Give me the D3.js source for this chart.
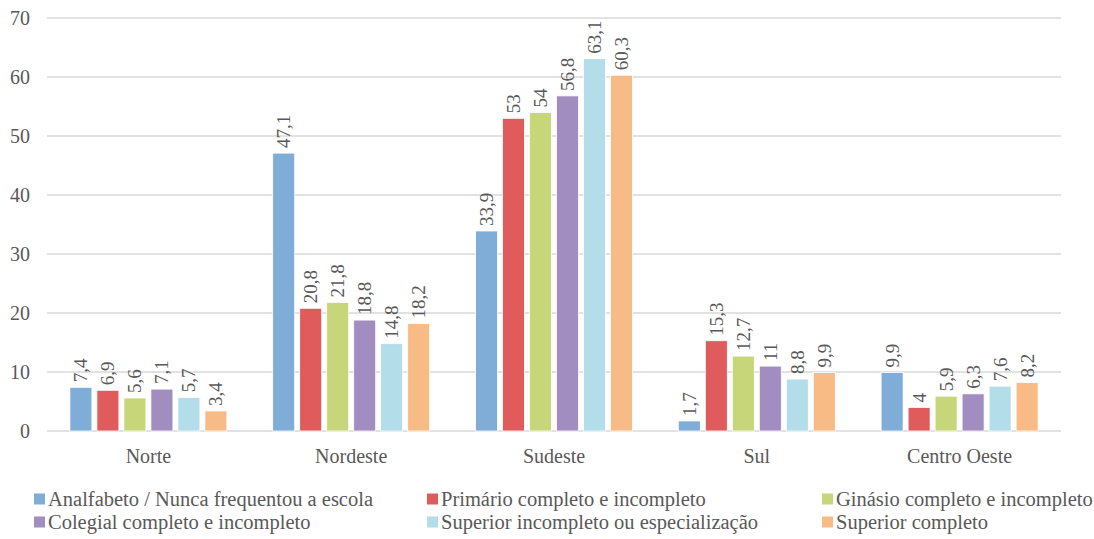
<!DOCTYPE html>
<html><head><meta charset="utf-8">
<script src="https://cdn.jsdelivr.net/npm/d3@7"></script>
<style>body{margin:0;background:#fff;}svg{display:block;}</style>
</head><body>
<svg id="c" width="1094" height="539" style='font-family:"Times New Roman","Tinos","Liberation Serif",serif'></svg>
<script>
const categories = ["Norte","Nordeste","Sudeste","Sul","Centro Oeste"];
const seriesNames = ["Analfabeto / Nunca frequentou a escola","Primário completo e incompleto","Ginásio completo e incompleto","Colegial completo e incompleto","Superior incompleto ou especialização","Superior completo"];
const analfabeto = [7.4,47.1,33.9,1.7,9.9];
const primario = [6.9,20.8,53,15.3,4];
const ginasio = [5.6,21.8,54,12.7,5.9];
const colegial = [7.1,18.8,56.8,11,6.3];
const superiorInc = [5.7,14.8,63.1,8.8,7.6];
const superiorComp = [3.4,18.2,60.3,9.9,8.2];
const yTicks = [0,10,20,30,40,50,60,70];
const colors = ["#7fadd7","#e05c5c","#c8d67a","#a18dbf","#b2dde9","#f9bb85"];

const seriesValues = [analfabeto,primario,ginasio,colegial,superiorInc,superiorComp];
const svg = d3.select("#c");
const textColor = "#595959";
const FF = '"Times New Roman", "Tinos", "Liberation Serif", serif';

const x0 = d3.scaleBand().domain(categories).range([47,1061]);
const bw = x0.bandwidth();
const x1 = d3.scaleBand().domain(d3.range(6)).range([(bw-162)/2,(bw+162)/2]).paddingInner(0.185).paddingOuter(0.0925);
const yScale = d3.scaleLinear().domain([0,70]).range([431,18]);

svg.append("g").selectAll("line").data(yTicks).join("line")
  .attr("x1",47).attr("x2",1061)
  .attr("y1",d=>yScale(d)).attr("y2",d=>yScale(d))
  .attr("stroke","#d9d9d9").attr("stroke-width",1.5);

svg.append("g").selectAll("text").data(yTicks).join("text")
  .attr("x",30).attr("y",d=>yScale(d)+7)
  .attr("text-anchor","end").style("font-family",FF).style("font-size","20px")
  .attr("fill",textColor).text(d=>d);

const groups = svg.append("g").selectAll("g").data(categories).join("g")
  .attr("transform",d=>`translate(${x0(d)},0)`);
groups.each(function(cat,ci){
  const g = d3.select(this);
  const data = seriesValues.map((s,si)=>({si,v:s[ci]}));
  g.selectAll("rect").data(data).join("rect")
    .attr("x",d=>x1(d.si)).attr("width",x1.bandwidth())
    .attr("y",d=>yScale(d.v)).attr("height",d=>yScale(0)-yScale(d.v))
    .attr("fill",d=>colors[d.si]).attr("stroke","#fff").attr("stroke-width",0.8);
  g.selectAll("text").data(data).join("text")
    .attr("transform",d=>`translate(${x1(d.si)+x1.bandwidth()/2+6.5},${yScale(d.v)-5}) rotate(-90)`)
    .style("font-family",FF).style("font-size","19px")
    .attr("fill",textColor).text(d=>String(d.v).replace(".",","));
});

svg.append("g").selectAll("text").data(categories).join("text")
  .attr("x",d=>x0(d)+bw/2).attr("y",463)
  .attr("text-anchor","middle").style("font-family",FF).style("font-size","20px")
  .attr("fill",textColor).text(d=>d);

const legX = [34,427,822];
const legY = [499,522];
const leg = svg.append("g").selectAll("g").data(seriesNames).join("g")
  .attr("transform",(d,i)=>`translate(${legX[i%3]},${legY[Math.floor(i/3)]})`);
leg.append("rect").attr("x",0).attr("y",-5.5).attr("width",11).attr("height",11)
  .attr("fill",(d,i)=>colors[i]);
leg.append("text").attr("x",14).attr("y",7)
  .style("font-family",FF).style("font-size","20.5px").attr("fill",textColor).text(d=>d);
</script>
</body></html>
